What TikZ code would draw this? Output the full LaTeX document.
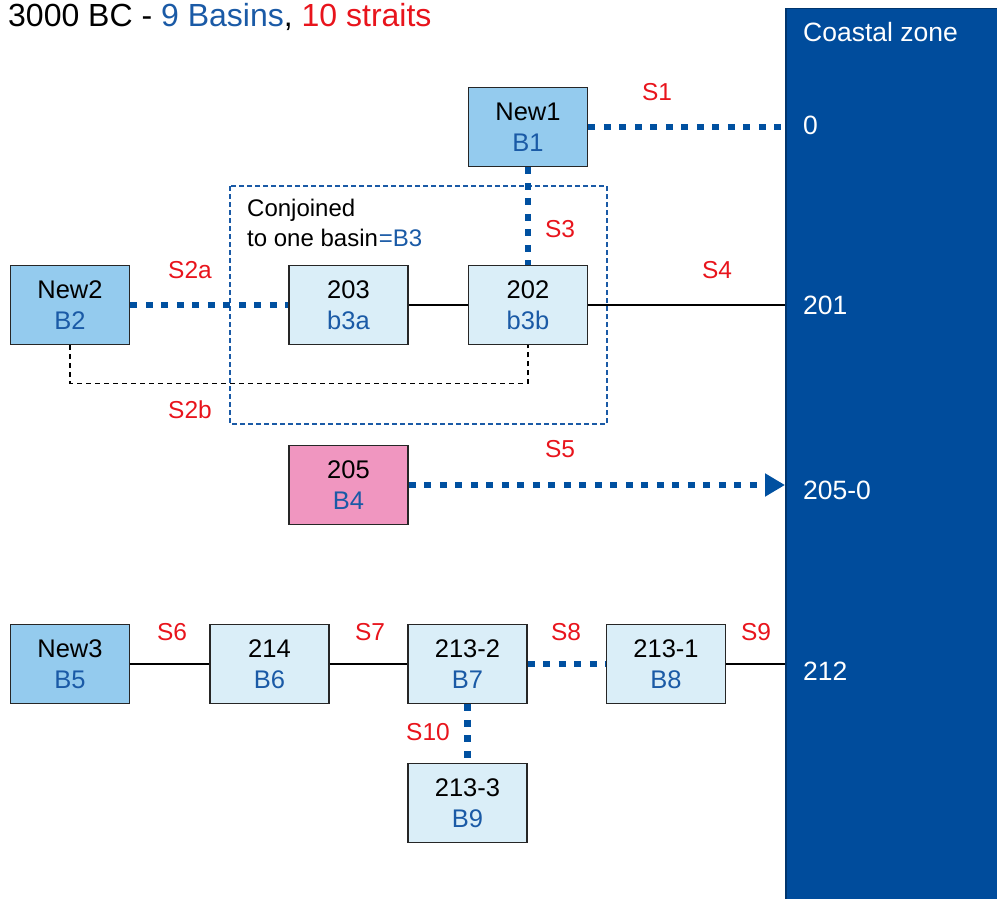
\documentclass[tikz,border=0pt]{standalone}
\usepackage{fontspec}
\setmainfont{Liberation Sans}
\usetikzlibrary{arrows.meta}
\definecolor{coastblue}{RGB}{0,76,156}
\definecolor{dotblue}{RGB}{0,80,160}
\definecolor{txtblue}{RGB}{26,90,166}
\definecolor{lblred}{RGB}{232,20,28}
\definecolor{newfill}{RGB}{148,203,238}
\definecolor{palefill}{RGB}{218,238,248}
\definecolor{pinkfill}{RGB}{240,150,192}
\tikzset{
  basin/.style={draw=black!85, line width=1.8pt, minimum width=119pt, minimum height=79pt, inner sep=0pt, align=center, font=\fontsize{25.5}{31}\selectfont},
  newbasin/.style={basin, fill=newfill},
  palebasin/.style={basin, fill=palefill},
  pinkbasin/.style={basin, fill=pinkfill},
  dotline/.style={draw=dotblue, line width=6.5pt, dash pattern=on 7pt off 8.5pt},
  solidline/.style={draw=black, line width=1.3pt},
  blkdash/.style={draw=black, line width=1.2pt, dash pattern=on 5pt off 4pt},
  lbl/.style={text=lblred, font=\fontsize{24.5}{28}\selectfont, inner sep=0pt},
  coastlbl/.style={text=white, font=\fontsize{26.5}{30}\selectfont, inner sep=0pt, anchor=west},
}
\begin{document}
\begin{tikzpicture}[x=1pt, y=-1pt]
\useasboundingbox (0,0) rectangle (997,899);
% coastal zone
\node (coast) [draw=coastblue!70!black, line width=1.5pt, fill=coastblue, minimum width=214pt, minimum height=900pt, anchor=north west, inner sep=0pt] at (785,8) {};
\node (coasttitle) [coastlbl] at (803,32) {Coastal zone};
\node (c0) [coastlbl] at (803,125) {0};
\node (c201) [coastlbl] at (803,305) {201};
\node (c205) [coastlbl] at (803,490) {205-0};
\node (c212) [coastlbl] at (803,671) {212};
% title
\node (title) [anchor=west, inner sep=0pt, font=\fontsize{32}{36}\selectfont] at (8,17) {3000 BC - \textcolor{txtblue}{9 Basins}, \textcolor{lblred}{10 straits}};
% conjoined box
\draw[draw=txtblue, line width=1.3pt, dash pattern=on 5pt off 3pt] (230,186) rectangle (607,424);
\node (conj) [anchor=north west, align=left, inner sep=0pt, font=\fontsize{24}{30}\selectfont] at (247,199) {Conjoined\\to one basin\textcolor{txtblue}{\hspace{1pt}=B3}};
% basins
\node (n1) [newbasin] at (528,127) {New1\\\textcolor{txtblue}{B1}};
\node (n2) [newbasin] at (70,305) {New2\\\textcolor{txtblue}{B2}};
\node (b203) [palebasin] at (348.5,305) {203\\\textcolor{txtblue}{b3a}};
\node (b202) [palebasin] at (528,305) {202\\\textcolor{txtblue}{b3b}};
\node (b205) [pinkbasin] at (348.5,485) {205\\\textcolor{txtblue}{B4}};
\node (n3) [newbasin] at (70,664) {New3\\\textcolor{txtblue}{B5}};
\node (b214) [palebasin] at (269.5,664) {214\\\textcolor{txtblue}{B6}};
\node (b2132) [palebasin] at (467.5,664) {213-2\\\textcolor{txtblue}{B7}};
\node (b2131) [palebasin] at (666,664) {213-1\\\textcolor{txtblue}{B8}};
\node (b2133) [palebasin] at (467.5,803) {213-3\\\textcolor{txtblue}{B9}};
% connectors
\draw[dotline] (n1.east) -- (n1.east -| coast.west);
\draw[dotline] (n1.south) -- (b202.north);
\draw[dotline] (n2.east) -- (b203.west);
\draw[solidline] (b203.east) -- (b202.west);
\draw[solidline] (b202.east) -- (b202.east -| coast.west);
\draw[blkdash] (n2.south) -- ++(0,38) -| (b202.south);
\draw[dotline, -{Triangle[length=20pt, width=22pt]}] (b205.east) -- (b205.east -| coast.west);
\draw[solidline] (n3.east) -- (b214.west);
\draw[solidline] (b214.east) -- (b2132.west);
\draw[dotline] (b2132.east) -- (b2131.west);
\draw[solidline] (b2131.east) -- (b2131.east -| coast.west);
\draw[dotline] (b2132.south) -- (b2133.north);
% strait labels
\node (s1) [lbl] at (657,92) {S1};
\node (s2a) [lbl] at (190,270) {S2a};
\node (s2b) [lbl] at (190,410) {S2b};
\node (s3) [lbl] at (560,229) {S3};
\node (s4) [lbl] at (717,270) {S4};
\node (s5) [lbl] at (560,449) {S5};
\node (s6) [lbl] at (172,632) {S6};
\node (s7) [lbl] at (370,632) {S7};
\node (s8) [lbl] at (566,632) {S8};
\node (s9) [lbl] at (756,632) {S9};
\node (s10) [lbl] at (428,732) {S10};
\end{tikzpicture}
\end{document}
